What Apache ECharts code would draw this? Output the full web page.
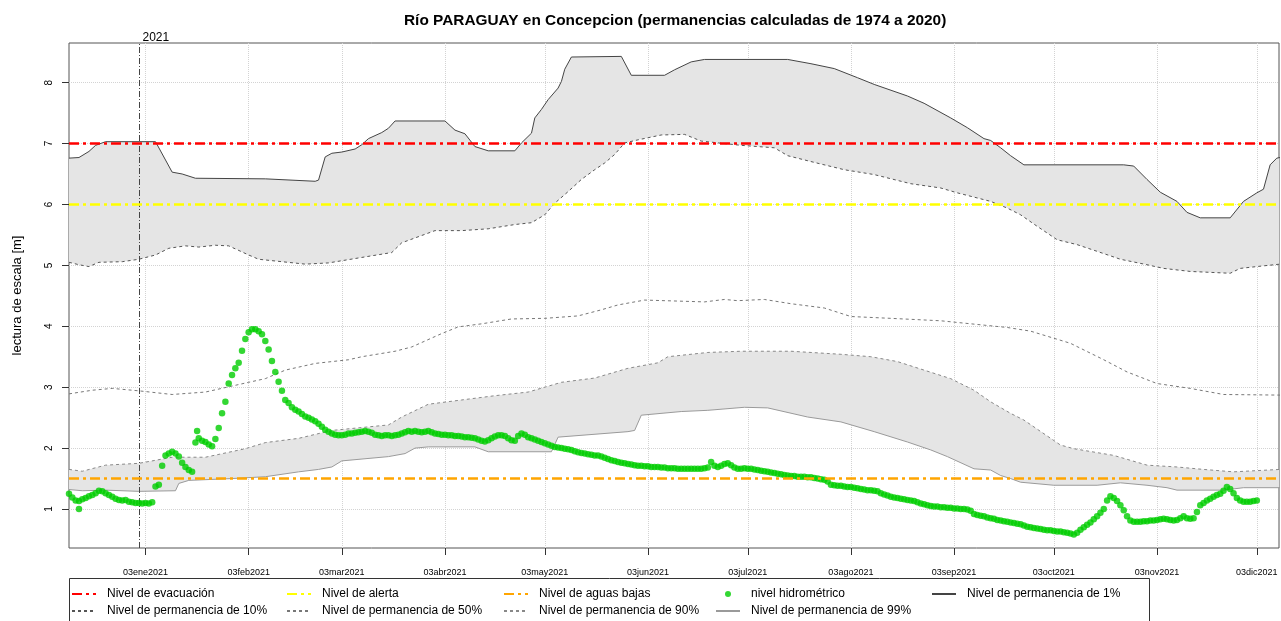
<!DOCTYPE html>
<html><head><meta charset="utf-8">
<script src="https://cdn.jsdelivr.net/npm/echarts@6/dist/echarts.min.js"></script>
<style>html,body{margin:0;padding:0;background:#fff}#c{width:1281px;height:621px}</style>
</head><body><div id="c"></div>
<script>
// ---------- axis ranges & ticks ----------
const xStart = '2020-12-11 00:00';
const xEnd = '2021-12-09 16:00';
const yMin = 0.36, yMax = 8.65;
const yTicks = [1, 2, 3, 4, 5, 6, 7, 8];
const xTickDates = ['2021-01-03','2021-02-03','2021-03-03','2021-04-03','2021-05-03','2021-06-03','2021-07-03','2021-08-03','2021-09-03','2021-10-03','2021-11-03','2021-12-03'];
const xTickLabels = ['03ene2021','03feb2021','03mar2021','03abr2021','03may2021','03jun2021','03jul2021','03ago2021','03sep2021','03oct2021','03nov2021','03dic2021'];
const yearMark = '2021-01-01';
const yearLabel = '2021';

// ---------- reference levels ----------
const levelEvac = 7.0;
const levelAlert = 6.0;
const levelLow = 1.5;

// ---------- permanence curves (date, level) ----------
const perm1 = [['2020-12-11',6.76],['2020-12-14',6.77],['2020-12-17',6.87],['2020-12-19',6.97],['2020-12-22',7.03],['2021-01-06',7.03],['2021-01-11',6.53],['2021-01-14',6.50],['2021-01-18',6.43],['2021-02-08',6.42],['2021-02-23',6.38],['2021-02-24',6.40],['2021-02-26',6.78],['2021-02-28',6.84],['2021-03-03',6.86],['2021-03-07',6.91],['2021-03-09',6.98],['2021-03-11',7.08],['2021-03-15',7.18],['2021-03-17',7.25],['2021-03-19',7.37],['2021-04-03',7.37],['2021-04-06',7.22],['2021-04-09',7.16],['2021-04-12',6.95],['2021-04-16',6.88],['2021-04-24',6.88],['2021-04-26',7.01],['2021-04-29',7.17],['2021-04-30',7.42],['2021-05-02',7.56],['2021-05-04',7.72],['2021-05-07',7.91],['2021-05-08',8.02],['2021-05-09',8.22],['2021-05-11',8.42],['2021-05-26',8.43],['2021-05-29',8.12],['2021-06-08',8.12],['2021-06-11',8.21],['2021-06-16',8.34],['2021-06-20',8.38],['2021-07-15',8.38],['2021-07-22',8.31],['2021-07-29',8.23],['2021-08-05',8.08],['2021-08-10',7.97],['2021-08-20',7.78],['2021-08-25',7.66],['2021-09-02',7.42],['2021-09-07',7.26],['2021-09-12',7.08],['2021-09-14',7.05],['2021-09-17',6.93],['2021-09-20',6.80],['2021-09-24',6.65],['2021-10-24',6.65],['2021-10-27',6.63],['2021-10-31',6.41],['2021-11-04',6.20],['2021-11-09',6.05],['2021-11-12',5.87],['2021-11-16',5.78],['2021-11-25',5.78],['2021-11-29',6.05],['2021-12-03',6.19],['2021-12-05',6.25],['2021-12-07',6.65],['2021-12-09',6.76],['2021-12-10',6.77]];
const perm10 = [['2020-12-11',5.05],['2020-12-14',5.01],['2020-12-17',4.98],['2020-12-20',5.05],['2020-12-27',5.06],['2021-01-01',5.10],['2021-01-06',5.17],['2021-01-10',5.28],['2021-01-15',5.32],['2021-01-19',5.30],['2021-01-24',5.33],['2021-01-28',5.32],['2021-02-03',5.17],['2021-02-06',5.10],['2021-02-13',5.06],['2021-02-20',5.02],['2021-02-27',5.04],['2021-03-09',5.13],['2021-03-18',5.21],['2021-03-21',5.37],['2021-03-25',5.45],['2021-03-31',5.57],['2021-04-08',5.57],['2021-04-16',5.60],['2021-04-24',5.67],['2021-04-29',5.70],['2021-05-03',5.83],['2021-05-06',6.02],['2021-05-10',6.21],['2021-05-14',6.41],['2021-05-18',6.57],['2021-05-21',6.68],['2021-05-24',6.82],['2021-05-27',7.01],['2021-05-31',7.06],['2021-06-07',7.14],['2021-06-14',7.15],['2021-06-19',7.04],['2021-07-01',6.97],['2021-07-11',6.93],['2021-07-15',6.80],['2021-07-23',6.69],['2021-08-01',6.57],['2021-08-10',6.49],['2021-08-21',6.34],['2021-08-30',6.27],['2021-09-04',6.19],['2021-09-14',6.05],['2021-09-19',5.94],['2021-09-23',5.83],['2021-09-28',5.64],['2021-10-04',5.42],['2021-10-10',5.34],['2021-10-16',5.23],['2021-10-23',5.10],['2021-10-31',5.01],['2021-11-05',4.95],['2021-11-13',4.90],['2021-11-25',4.87],['2021-11-28',4.95],['2021-12-03',4.98],['2021-12-10',5.02]];
const perm50 = [['2020-12-11',2.89],['2020-12-18',2.95],['2020-12-24',2.98],['2021-01-01',2.94],['2021-01-11',2.88],['2021-01-21',2.92],['2021-02-03',3.08],['2021-02-08',3.14],['2021-02-14',3.28],['2021-02-23',3.39],['2021-03-05',3.45],['2021-03-09',3.50],['2021-03-19',3.59],['2021-03-24',3.66],['2021-04-02',3.88],['2021-04-07',3.99],['2021-04-14',4.04],['2021-04-23',4.12],['2021-05-03',4.13],['2021-05-13',4.17],['2021-05-20',4.27],['2021-05-25',4.35],['2021-06-02',4.43],['2021-06-20',4.40],['2021-06-26',4.44],['2021-06-30',4.42],['2021-07-08',4.44],['2021-07-16',4.37],['2021-07-26',4.30],['2021-08-03',4.16],['2021-08-15',4.13],['2021-08-30',4.09],['2021-09-19',3.98],['2021-09-26',3.92],['2021-10-08',3.72],['2021-10-18',3.45],['2021-10-25',3.25],['2021-11-03',3.06],['2021-11-13',2.98],['2021-11-23',2.88],['2021-12-10',2.87]];
const perm90 = [['2020-12-11',1.65],['2020-12-15',1.62],['2020-12-22',1.72],['2021-01-01',1.75],['2021-01-11',1.85],['2021-01-21',1.85],['2021-02-02',1.99],['2021-02-08',2.09],['2021-02-18',2.16],['2021-02-28',2.29],['2021-03-17',2.38],['2021-03-21',2.51],['2021-03-29',2.72],['2021-04-08',2.79],['2021-04-18',2.86],['2021-04-28',2.92],['2021-05-08',3.08],['2021-05-18',3.15],['2021-05-28',3.31],['2021-06-06',3.40],['2021-06-09',3.50],['2021-06-21',3.57],['2021-07-01',3.59],['2021-07-16',3.59],['2021-07-31',3.54],['2021-08-09',3.50],['2021-08-17',3.42],['2021-08-25',3.28],['2021-09-02',3.14],['2021-09-09',2.95],['2021-09-14',2.76],['2021-09-20',2.57],['2021-09-24',2.46],['2021-10-05',2.05],['2021-10-09',1.99],['2021-10-21',1.88],['2021-10-31',1.72],['2021-11-09',1.69],['2021-11-17',1.65],['2021-11-26',1.61],['2021-12-03',1.63],['2021-12-10',1.65]];
const perm99 = [['2020-12-11',1.32],['2020-12-15',1.30],['2020-12-22',1.31],['2021-01-01',1.29],['2021-01-12',1.30],['2021-01-13',1.42],['2021-01-16',1.47],['2021-01-29',1.50],['2021-02-08',1.53],['2021-02-18',1.61],['2021-02-24',1.65],['2021-02-28',1.69],['2021-03-03',1.79],['2021-03-17',1.86],['2021-03-22',1.91],['2021-03-25',2.00],['2021-03-29',2.02],['2021-04-12',2.02],['2021-04-16',1.94],['2021-05-05',1.94],['2021-05-07',2.18],['2021-05-28',2.27],['2021-05-30',2.29],['2021-06-01',2.54],['2021-06-13',2.60],['2021-06-21',2.62],['2021-07-02',2.67],['2021-07-09',2.66],['2021-07-21',2.51],['2021-07-31',2.43],['2021-08-10',2.27],['2021-08-20',2.10],['2021-08-27',1.97],['2021-09-01',1.86],['2021-09-09',1.66],['2021-09-14',1.64],['2021-09-17',1.55],['2021-09-20',1.50],['2021-09-23',1.44],['2021-10-03',1.39],['2021-10-16',1.39],['2021-10-23',1.43],['2021-10-31',1.39],['2021-11-06',1.35],['2021-11-09',1.31],['2021-11-23',1.31],['2021-11-29',1.35],['2021-12-10',1.35]];

// ---------- daily gauge readings (nivel hidrométrico), one array per month ----------
const lvlDec2020 = [1.25,1.19,1.14,1.13,1.16,1.18,1.21,1.23,1.26,1.30,1.29,1.26,1.23,1.20,1.17,1.15,1.14,1.15,1.12,1.11,1.10]; // from 11 Dec
const lvlJan = [1.10,1.09,1.10,1.09,1.11,1.37,1.40,1.71,1.88,1.91,1.94,1.91,1.86,1.76,1.69,1.64,1.61,2.09,2.16,2.12,2.10,2.06,2.03,2.15,2.33,2.57,2.76,3.06,3.20,3.31,3.40];
const lvlFeb = [3.60,3.79,3.90,3.95,3.95,3.92,3.87,3.76,3.62,3.43,3.25,3.09,2.94,2.79,2.74,2.67,2.63,2.60,2.56,2.52,2.50,2.47,2.44,2.40,2.35,2.30,2.27,2.24];
const lvlMar = [2.22,2.21,2.21,2.22,2.24,2.24,2.25,2.26,2.27,2.28,2.27,2.25,2.22,2.21,2.20,2.21,2.21,2.20,2.21,2.22,2.24,2.26,2.28,2.27,2.28,2.27,2.26,2.27,2.28,2.26,2.24];
const lvlApr = [2.23,2.22,2.22,2.21,2.21,2.20,2.20,2.19,2.18,2.18,2.17,2.16,2.14,2.12,2.11,2.13,2.16,2.19,2.21,2.21,2.20,2.16,2.13,2.12,2.20,2.24,2.22,2.18,2.16,2.14];
const lvlMay = [2.12,2.10,2.08,2.06,2.04,2.02,2.01,2.00,1.99,1.98,1.97,1.95,1.93,1.92,1.91,1.90,1.89,1.88,1.88,1.86,1.84,1.82,1.80,1.79,1.77,1.76,1.75,1.74,1.73,1.72,1.71];
const lvlJun = [1.71,1.70,1.70,1.69,1.69,1.69,1.68,1.68,1.67,1.67,1.67,1.66,1.66,1.66,1.66,1.66,1.66,1.66,1.66,1.67,1.68,1.77,1.71,1.69,1.71,1.74,1.75,1.72,1.68,1.66];
const lvlJul = [1.66,1.67,1.66,1.66,1.65,1.64,1.63,1.62,1.61,1.60,1.59,1.58,1.57,1.56,1.55,1.54,1.54,1.53,1.53,1.53,1.52,1.52,1.51,1.50,1.49,1.48,1.45,1.40,1.39,1.38,1.38];
const lvlAug = [1.37,1.36,1.36,1.35,1.34,1.33,1.32,1.31,1.31,1.30,1.29,1.26,1.24,1.22,1.20,1.19,1.18,1.17,1.16,1.15,1.14,1.13,1.11,1.09,1.08,1.06,1.05,1.04,1.04,1.03,1.03];
const lvlSep = [1.02,1.02,1.01,1.01,1.00,1.00,0.99,0.97,0.92,0.90,0.89,0.88,0.86,0.85,0.84,0.82,0.81,0.80,0.79,0.78,0.77,0.76,0.75,0.73,0.71,0.70,0.69,0.68,0.67,0.66];
const lvlOct = [0.65,0.65,0.64,0.63,0.63,0.62,0.61,0.60,0.58,0.61,0.66,0.70,0.74,0.78,0.83,0.88,0.94,1.00,1.14,1.21,1.18,1.13,1.06,0.98,0.88,0.81,0.79,0.79,0.79,0.80,0.80];
const lvlNov = [0.81,0.81,0.82,0.83,0.84,0.83,0.82,0.81,0.82,0.85,0.88,0.85,0.84,0.85,0.95,1.06,1.10,1.14,1.17,1.20,1.23,1.25,1.30,1.36,1.33,1.26,1.18,1.14,1.12,1.12];
const lvlDec2021 = [1.12,1.13,1.14];
const obsMonthStarts = ['2020-12-11','2021-01-01','2021-02-01','2021-03-01','2021-04-01','2021-05-01','2021-06-01','2021-07-01','2021-08-01','2021-09-01','2021-10-01','2021-11-01','2021-12-01'];
const obsMonthValues = [lvlDec2020,lvlJan,lvlFeb,lvlMar,lvlApr,lvlMay,lvlJun,lvlJul,lvlAug,lvlSep,lvlOct,lvlNov,lvlDec2021];
const obsExtra = [['2020-12-14 00:00',1.00],['2021-01-18 12:00',2.28]];

// ---------- helpers ----------
function ts(s) {
  const parts = s.split(' ');
  const d = parts[0].split('-').map(Number);
  let h = 0, mi = 0;
  if (parts[1]) { const t = parts[1].split(':').map(Number); h = t[0]; mi = t[1]; }
  return new Date(d[0], d[1] - 1, d[2], h, mi).getTime();
}
const toPt = p => [ts(p[0]), p[1]];
const obsData = [];
obsMonthStarts.forEach((start, k) => {
  const d = start.split('-').map(Number);
  obsMonthValues[k].forEach((v, i) => {
    if (v != null) obsData.push([new Date(d[0], d[1] - 1, d[2] + i).getTime(), v]);
  });
});
obsExtra.forEach(p => obsData.push(toPt(p)));

const tickTs = xTickDates.map(ts);
const tickLabelMap = {};
tickTs.forEach((t, i) => { tickLabelMap[t] = xTickLabels[i]; });

function band(upper, lower) {
  return {
    type: 'custom', silent: true, clip: true, z: 1,
    data: [toPt(upper[0])],
    renderItem: function (params, api) {
      const pts = upper.map(p => api.coord(toPt(p)))
        .concat(lower.slice().reverse().map(p => api.coord(toPt(p))));
      return { type: 'polygon', shape: { points: pts }, style: { fill: '#e5e5e5', stroke: null } };
    }
  };
}
function levelLine(name, value, color) {
  return {
    name: name, type: 'line', silent: true, symbol: 'none', z: 6, color: color,
    data: [[ts(xStart), value], [ts(xEnd), value]],
    lineStyle: { color: color, width: 2.5, type: [10, 4, 3, 4] }
  };
}
function permLine(name, data, color, dashed) {
  return {
    name: name, type: 'line', silent: true, symbol: 'none', z: 3, color: color,
    data: data.map(toPt),
    lineStyle: { color: color, width: 1, type: dashed ? [3, 3] : 'solid' }
  };
}

const FONT = 'Liberation Sans, Arial, Helvetica, sans-serif';
const lineItem = name => ({ name: name, itemStyle: { opacity: 0 } });
const legendBase = {
  orient: 'vertical', top: 588, itemWidth: 24, itemHeight: 6, itemGap: 5, padding: 0,
  selectedMode: false,
  textStyle: { fontSize: 12, color: '#000', fontFamily: FONT, padding: [0, 0, 0, 6] }
};

const chart = echarts.init(document.getElementById('c'));
chart.setOption({
  animation: false,
  backgroundColor: '#fff',
  textStyle: { fontFamily: FONT },
  title: {
    text: 'Río PARAGUAY en Concepcion (permanencias calculadas de 1974 a 2020)',
    left: 404, top: 13, padding: 0,
    textStyle: { fontSize: 15.4, fontWeight: 'bold', color: '#000', fontFamily: FONT }
  },
  legend: [
    Object.assign({}, legendBase, { left: 71, data: [lineItem('Nivel de evacuación'), lineItem('Nivel de permanencia de 10%')] }),
    Object.assign({}, legendBase, { left: 286, data: [lineItem('Nivel de alerta'), lineItem('Nivel de permanencia de 50%')] }),
    Object.assign({}, legendBase, { left: 503, data: [lineItem('Nivel de aguas bajas'), lineItem('Nivel de permanencia de 90%')] }),
    Object.assign({}, legendBase, { left: 715, data: [{ name: 'nivel hidrométrico' }, lineItem('Nivel de permanencia de 99%')] }),
    Object.assign({}, legendBase, { left: 931, data: [lineItem('Nivel de permanencia de 1%')] })
  ],
  graphic: [{
    type: 'rect', left: 69, top: 578, silent: true, z: -1,
    shape: { width: 1080, height: 60 },
    style: { fill: '#fff', stroke: '#333', lineWidth: 1 }
  }],
  grid: { left: 69, right: 2, top: 43, bottom: 73, show: true, borderColor: '#555', borderWidth: 1,
    outerBoundsMode: 'none', containLabel: false },
  xAxis: {
    type: 'value', min: ts(xStart), max: ts(xEnd),
    axisLine: { show: false },
    axisTick: { show: true, customValues: tickTs, length: 7, lineStyle: { color: '#333' } },
    axisLabel: { customValues: tickTs, fontSize: 9, color: '#000', margin: 20, hideOverlap: false,
      formatter: v => tickLabelMap[v] || '' },
    splitLine: { show: true, lineStyle: { color: '#d3d3d3', type: 'dotted', width: 1 } }
  },
  yAxis: {
    type: 'value', min: yMin, max: yMax,
    name: 'lectura de escala [m]', nameLocation: 'middle', nameGap: 45, nameRotate: 90,
    nameTextStyle: { fontSize: 13, color: '#000' },
    axisLine: { show: false },
    axisTick: { show: true, customValues: yTicks, length: 7, lineStyle: { color: '#333' } },
    axisLabel: { customValues: yTicks, rotate: 90, fontSize: 10, color: '#000', margin: 15 },
    splitLine: { show: true, lineStyle: { color: '#d3d3d3', type: 'dotted', width: 1 } }
  },
  series: [
    band(perm1, perm10),
    band(perm90, perm99),
    permLine('Nivel de permanencia de 10%', perm10, '#555', true),
    permLine('Nivel de permanencia de 50%', perm50, '#777', true),
    permLine('Nivel de permanencia de 90%', perm90, '#888', true),
    permLine('Nivel de permanencia de 99%', perm99, '#9a9a9a', false),
    permLine('Nivel de permanencia de 1%', perm1, '#444', false),
    {
      name: 'nivel hidrométrico', type: 'scatter', z: 5, symbol: 'circle', symbolSize: 6.5,
      color: '#00cd00', itemStyle: { color: '#00cd00' }, data: obsData,
      markLine: {
        silent: true, symbol: 'none', animation: false,
        lineStyle: { color: '#444', width: 1, type: [6, 2, 1, 2] },
        label: { show: true, position: 'end', formatter: yearLabel, color: '#000', fontSize: 12,
          distance: -1, padding: [0, 0, 0, 34] },
        data: [{ xAxis: ts(yearMark) }]
      }
    },
    levelLine('Nivel de evacuación', levelEvac, '#ff0000'),
    levelLine('Nivel de alerta', levelAlert, '#ffff00'),
    levelLine('Nivel de aguas bajas', levelLow, '#ffa500')
  ]
});
</script>
</body></html>
